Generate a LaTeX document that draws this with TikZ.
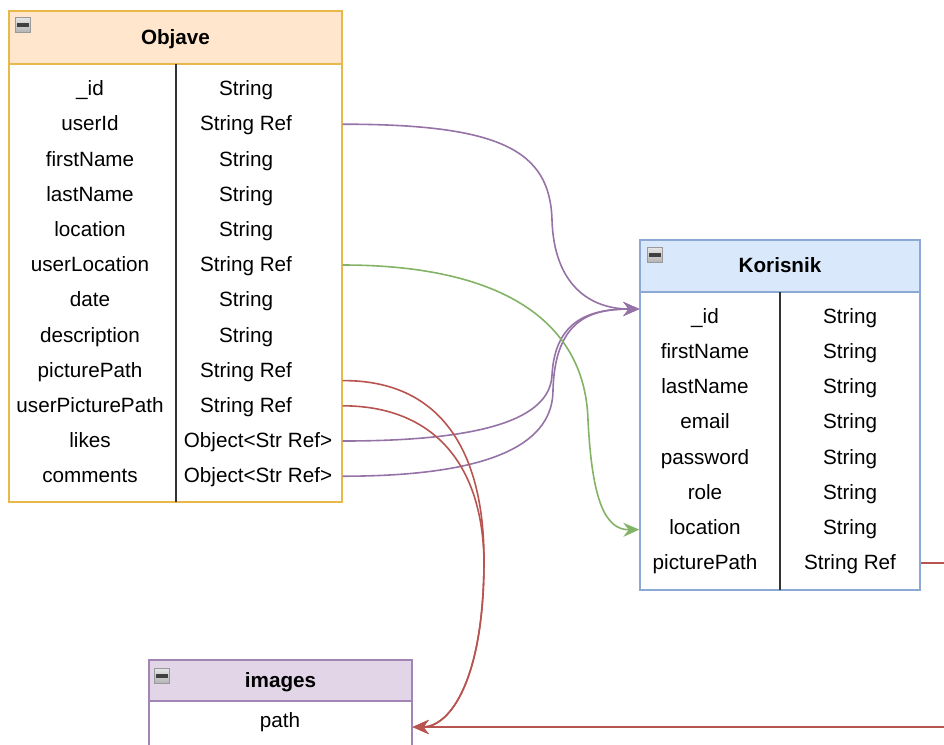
\documentclass[tikz,border=0pt]{standalone}
\usepackage{fontspec}
\setmainfont{Liberation Sans}
\usetikzlibrary{arrows.meta}
\definecolor{objavefill}{HTML}{FFE6CC}
\definecolor{objaveline}{HTML}{E8B84B}
\definecolor{korisnikfill}{HTML}{DAE8FC}
\definecolor{korisnikline}{HTML}{8CA8D4}
\definecolor{imagesfill}{HTML}{E1D5E7}
\definecolor{imagesline}{HTML}{A385B5}
\definecolor{refpurple}{HTML}{9673A6}
\definecolor{refgreen}{HTML}{82B366}
\definecolor{refred}{HTML}{B85450}
\definecolor{divgray}{HTML}{333333}
\tikzset{
  tablebox/.style={rectangle, draw=#1, line width=1pt, fill=white, inner sep=0pt},
  headbox/.style={rectangle, draw=#1, line width=1pt, inner sep=0pt, text height=12.5pt, text depth=2.5pt, font=\fontsize{15.5pt}{18pt}\selectfont\bfseries},
  rowtext/.style={inner sep=0pt, text height=12.5pt, text depth=2.5pt},
  divider/.style={draw=divgray, line width=1pt},
  collapse/.style={rectangle, minimum size=11.5pt, inner sep=0pt, draw=gray!80, top color=gray!20, bottom color=gray!60,
    path picture={\fill[gray!50!black] ([xshift=1.5pt,yshift=-1.2pt]path picture bounding box.west) rectangle ([xshift=-1.5pt,yshift=1.2pt]path picture bounding box.east);}},
  refline/.style={draw=#1, line width=1.2pt, -{Stealth[length=12pt,width=10.5pt,inset=4pt]}}
}
\begin{document}
\begin{tikzpicture}[x=0.75pt,y=-0.75pt, font=\fontsize{15.5pt}{18pt}\selectfont]
\useasboundingbox (0,0) rectangle (944,744);
\clip (0,0) rectangle (944,744);
% Objave
\node (objave) [tablebox=objaveline, minimum width=249.75pt, minimum height=368.25pt] at (175.5,256.5) {};
\node (objaveHead) [headbox=objaveline, fill=objavefill, minimum width=249.75pt, minimum height=39.75pt, anchor=north] at (objave.north) {Objave};
\node [collapse] at (23,25) {};
\draw[divider] (176,64) -- (176,502);
\node (oId) [rowtext] at (90,89) {\_id};
\node (oIdT) [rowtext] at (246,89) {String};
\node (oUserId) [rowtext] at (90,124.2) {userId};
\node (oUserIdT) [rowtext] at (246,124.2) {String Ref};
\node (oFirst) [rowtext] at (90,159.4) {firstName};
\node (oFirstT) [rowtext] at (246,159.4) {String};
\node (oLast) [rowtext] at (90,194.6) {lastName};
\node (oLastT) [rowtext] at (246,194.6) {String};
\node (oLoc) [rowtext] at (90,229.8) {location};
\node (oLocT) [rowtext] at (246,229.8) {String};
\node (oUserLoc) [rowtext] at (90,265) {userLocation};
\node (oUserLocT) [rowtext] at (246,265) {String Ref};
\node (oDate) [rowtext] at (90,300.2) {date};
\node (oDateT) [rowtext] at (246,300.2) {String};
\node (oDesc) [rowtext] at (90,335.4) {description};
\node (oDescT) [rowtext] at (246,335.4) {String};
\node (oPic) [rowtext] at (90,370.6) {picturePath};
\node (oPicT) [rowtext] at (246,370.6) {String Ref};
\node (oUserPic) [rowtext] at (90,405.8) {userPicturePath};
\node (oUserPicT) [rowtext] at (246,405.8) {String Ref};
\node (oLikes) [rowtext] at (90,441) {likes};
\node (oLikesT) [rowtext] at (258,441) {Object<Str Ref>};
\node (oComm) [rowtext] at (90,476.2) {comments};
\node (oCommT) [rowtext] at (258,476.2) {Object<Str Ref>};
% Korisnik
\node (korisnik) [tablebox=korisnikline, minimum width=210pt, minimum height=262.5pt] at (780,415) {};
\node (korisnikHead) [headbox=korisnikline, fill=korisnikfill, minimum width=210pt, minimum height=39pt, anchor=north] at (korisnik.north) {Korisnik};
\node [collapse] at (655,255) {};
\draw[divider] (780,292) -- (780,590);
\node (kId) [rowtext] at (705,317) {\_id};
\node (kIdT) [rowtext] at (850,317) {String};
\node (kFirst) [rowtext] at (705,352.1) {firstName};
\node (kFirstT) [rowtext] at (850,352.1) {String};
\node (kLast) [rowtext] at (705,387.2) {lastName};
\node (kLastT) [rowtext] at (850,387.2) {String};
\node (kMail) [rowtext] at (705,422.3) {email};
\node (kMailT) [rowtext] at (850,422.3) {String};
\node (kPass) [rowtext] at (705,457.4) {password};
\node (kPassT) [rowtext] at (850,457.4) {String};
\node (kRole) [rowtext] at (705,492.5) {role};
\node (kRoleT) [rowtext] at (850,492.5) {String};
\node (kLoc) [rowtext] at (705,527.6) {location};
\node (kLocT) [rowtext] at (850,527.6) {String};
\node (kPic) [rowtext] at (705,562.7) {picturePath};
\node (kPicT) [rowtext] at (850,562.7) {String Ref};
% images
\node (images) [tablebox=imagesline, minimum width=197.25pt, minimum height=90pt] at (280.5,720) {};
\node (imagesHead) [headbox=imagesline, fill=imagesfill, minimum width=197.25pt, minimum height=30.75pt, anchor=north] at (images.north) {images};
\node [collapse] at (162,676) {};
\node (iPath) [rowtext] at (280,721) {path};
% references
\draw[refline=refpurple] (oUserIdT -| objave.east) .. controls (500,124.2) and (550,150) .. (552,220) .. controls (554,285) and (590,309) .. ([yshift=6pt]kId -| korisnik.west);
\draw[refline=refpurple] (oLikesT -| objave.east) .. controls (480,441) and (550,420) .. (552,375) .. controls (555,320) and (590,309) .. ([yshift=6pt]kId -| korisnik.west);
\draw[refline=refpurple] (oCommT -| objave.east) .. controls (500,476.2) and (553,440) .. (553,390) .. controls (555,320) and (590,309) .. ([yshift=6pt]kId -| korisnik.west);
\draw[refline=refgreen] (oUserLocT -| objave.east) .. controls (500,265) and (585,320) .. (588,420) .. controls (592,500) and (605,530) .. ([yshift=-1.5pt]kLoc -| korisnik.west);
\draw[refline=refred] ([yshift=-7.5pt]oPicT -| objave.east) .. controls (440,380) and (484,450) .. (484,560) .. controls (484,680) and (450,727) .. ([yshift=-4.5pt]iPath -| images.east);
\draw[refline=refred] (oUserPicT -| objave.east) .. controls (430,405.8) and (482,460) .. (484,560) .. controls (484,680) and (450,727) .. ([yshift=-4.5pt]iPath -| images.east);
\coordinate (kPicOut) at (965,562.7);
\coordinate (iPathIn) at (965,727);
\draw[refline=refred] (kPicT -| korisnik.east) -- (kPicOut) -- (iPathIn) -- ([yshift=-4.5pt]iPath -| images.east);
\end{tikzpicture}
\end{document}
